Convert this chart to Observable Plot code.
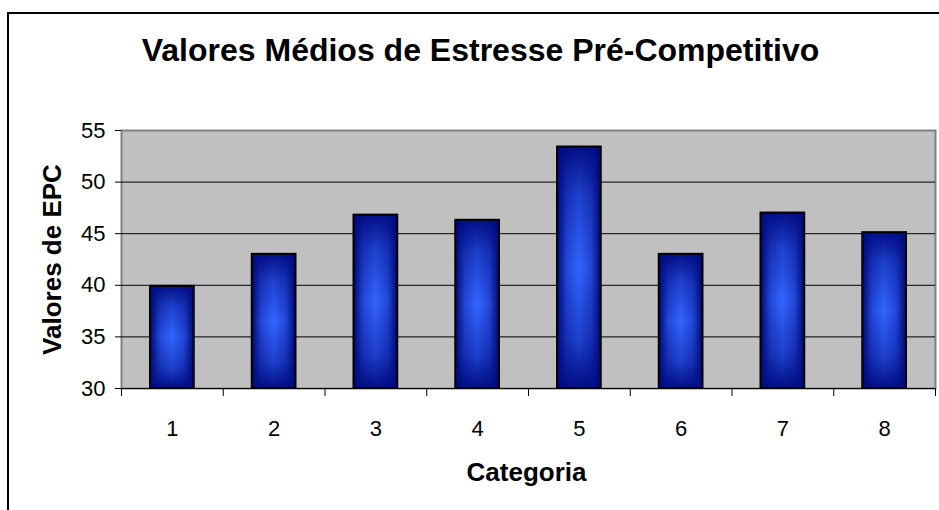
<!DOCTYPE html>
<html>
<head>
<meta charset="utf-8">
<script src="https://cdn.jsdelivr.net/npm/d3@7"></script>
<script src="https://cdn.jsdelivr.net/npm/@observablehq/plot@0.6"></script>
<style>
  html, body { margin: 0; padding: 0; background: #fff; overflow: hidden; }
  #sheet {
    position: absolute; left: 7px; top: 12px; width: 1200px; height: 800px;
    border-left: 2px solid #000; border-top: 2px solid #000; box-sizing: border-box;
  }
  #chart { position: absolute; left: 0; top: 0; }
</style>
</head>
<body>
<div id="sheet"></div>
<div id="chart"></div>
<script>
// Mean pre-competitive stress (EPC) per category
const categorias = [1, 2, 3, 4, 5, 6, 7, 8];
const valoresEPC = [39.9, 43.0, 46.8, 46.3, 53.4, 43.0, 47.0, 45.1];
const yTicks = [30, 35, 40, 45, 50, 55];
const gridValues = [35, 40, 45, 50];
const titulo = "Valores Médios de Estresse Pré-Competitivo";
const tituloX = "Categoria";
const tituloY = "Valores de EPC";

const dados = categorias.map((c, i) => ({categoria: c, valor: valoresEPC[i]}));
// category boundaries, where the x tick marks sit
const limites = [...categorias.map(c => c - 0.5), categorias[categorias.length - 1] + 0.5];

const font = "'Liberation Sans', Arial, Helvetica, sans-serif";
const barOpts = {
  x1: d => d.categoria - 0.5,
  x2: d => d.categoria + 0.5,
  y1: 30,
  y2: "valor",
  insetLeft: 29,
  insetRight: 29
};

const chart = Plot.plot({
  width: 939,
  height: 510,
  marginLeft: 121,
  marginRight: 4,
  marginTop: 130,
  marginBottom: 122,
  style: {fontFamily: font, fontSize: "22px", background: "transparent", color: "#000"},
  x: {type: "linear", domain: [limites[0], limites[limites.length - 1]]},
  y: {domain: [30, 55]},
  marks: [
    Plot.frame({fill: "#C0C0C0", stroke: "#808080", strokeWidth: 2}),
    Plot.ruleY(gridValues, {stroke: "#000", strokeWidth: 1}),
    Plot.rect(dados, {...barOpts, fill: "url(#gradH)"}),
    Plot.rect(dados, {...barOpts, fill: "url(#gradV)", stroke: "#000", strokeWidth: 2}),
    Plot.ruleY([30], {stroke: "#000", strokeWidth: 1}),
    Plot.axisY({ticks: yTicks, tickSize: 6, tickPadding: 10, fontSize: 22, label: null, stroke: "#000", fill: "#000"}),
    Plot.axisX({ticks: limites, tickSize: 8, tickFormat: () => "", label: null, stroke: "#000"}),
    Plot.axisX({ticks: categorias, tickSize: 0, tickPadding: 32, fontSize: 22, label: null, fill: "#000"}),
    Plot.text([titulo], {frameAnchor: "top", dx: -48, dy: -80, fontSize: 32, fontWeight: "bold", fill: "#000", lineAnchor: "middle", textAnchor: "middle"}),
    Plot.text([tituloY], {frameAnchor: "left", dx: -69, rotate: -90, fontSize: 26, fontWeight: "bold", fill: "#000", lineAnchor: "middle", textAnchor: "middle"}),
    Plot.text([tituloX], {frameAnchor: "bottom", dx: -2, dy: 84, fontSize: 26, fontWeight: "bold", fill: "#000", lineAnchor: "middle", textAnchor: "middle"})
  ]
});

d3.select(chart).insert("defs", ":first-child").html(`
  <linearGradient id="gradH" x1="0" x2="1" y1="0" y2="0">
    <stop offset="0" stop-color="#00086e"/>
    <stop offset="0.22" stop-color="#2248d8"/>
    <stop offset="0.5" stop-color="#3366ff"/>
    <stop offset="0.78" stop-color="#2248d8"/>
    <stop offset="1" stop-color="#00086e"/>
  </linearGradient>
  <linearGradient id="gradV" x1="0" x2="0" y1="0" y2="1">
    <stop offset="0" stop-color="#000a80" stop-opacity="0.95"/>
    <stop offset="0.2" stop-color="#000a80" stop-opacity="0.4"/>
    <stop offset="0.5" stop-color="#000a80" stop-opacity="0"/>
    <stop offset="0.8" stop-color="#000a80" stop-opacity="0.4"/>
    <stop offset="1" stop-color="#000a80" stop-opacity="0.95"/>
  </linearGradient>
`);

document.getElementById("chart").appendChild(chart);
</script>
</body>
</html>
